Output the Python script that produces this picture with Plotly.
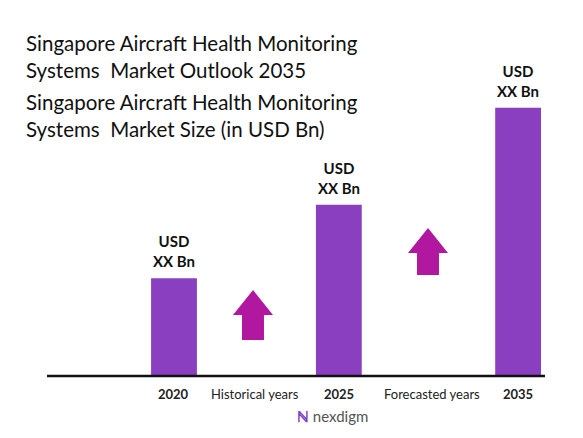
import plotly.graph_objects as go

years = ["2020", "2025", "2035"]
values = [1.00, 1.75, 2.74]
value_labels = ["USD<br>XX Bn", "USD<br>XX Bn", "USD<br>XX Bn"]
period_labels = ["Historical years", "Forecasted years"]
title_1 = "Singapore Aircraft Health Monitoring<br>Systems  Market Outlook 2035"
title_2 = "Singapore Aircraft Health Monitoring<br>Systems  Market Size (in USD Bn)"

W, H = 583, 438
OFF = 8  # page body margin
L, R, B = 47 - OFF, 38 + OFF, 62 + OFF
slots = [0.255, 0.586, 0.946]
FONT = "Lato"
BAR = "#8a3fc0"
ARROW = "#b2189f"


def px(x, y):
    # screenshot pixel -> paper coordinates
    x, y = x - OFF, y - OFF
    return (x - L) / (W - L - R), (H - B - y) / (H - B)


def arrow(cx, top, bottom):
    pts = [(cx, top), (cx + 20, top + 25), (cx + 11, top + 25), (cx + 11, bottom),
           (cx - 11, bottom), (cx - 11, top + 25), (cx - 20, top + 25)]
    pp = [px(*p) for p in pts]
    return "M " + " L ".join(f"{a:.4f},{b:.4f}" for a, b in pp) + " Z"


fig = go.Figure(go.Bar(x=slots, y=values, width=0.092, marker_color=BAR,
                       marker_line_width=0, hoverinfo="skip"))

ann = []
for s, v, t, yr in zip(slots, values, value_labels, years):
    ann.append(dict(x=s, y=v, text=f"<b>{t}</b>", showarrow=False, yanchor="bottom",
                    xanchor="center", yshift=6, font=dict(size=15, color="#111")))
    ann.append(dict(x=s, y=0, text=f"<b>{yr}</b>", showarrow=False, yanchor="top",
                    xanchor="center", yshift=-8, font=dict(size=13, color="#222")))
for t, xp in zip(period_labels, [255, 432]):
    x, _ = px(xp, 0)
    ann.append(dict(x=x, y=0, xref="paper", text=t, showarrow=False, yanchor="top",
                    xanchor="center", yshift=-8, font=dict(size=13, color="#222")))
for t, yp in [(title_1, 29), (title_2, 88)]:
    x, y = px(24, yp)
    ann.append(dict(x=x, y=y, xref="paper", yref="paper", text=t,
                    showarrow=False, xanchor="left", yanchor="top", align="left",
                    font=dict(size=20.5, color="#111", family=FONT)))
x, y = px(332, 427)
ann.append(dict(x=x, y=y, xref="paper", yref="paper", xanchor="center",
                text="<span style='color:#7b3fc4'><b>ℕ</b></span> nexdigm", showarrow=False,
                font=dict(size=15, color="#555", family=FONT)))

fig.update_layout(
    width=W, height=H, margin=dict(l=L, r=R, t=0, b=B),
    plot_bgcolor="white", paper_bgcolor="white", showlegend=False,
    font=dict(family=FONT),
    xaxis=dict(range=[0, 1], visible=False),
    yaxis=dict(range=[0, 3.76], visible=False),
    annotations=ann,
    shapes=[
        dict(type="line", xref="paper", yref="paper", x0=0, x1=1, y0=0, y1=0,
             line=dict(color="#111", width=2.5)),
        dict(type="path", xref="paper", yref="paper", path=arrow(253, 290, 340),
             fillcolor=ARROW, line_width=0),
        dict(type="path", xref="paper", yref="paper", path=arrow(428, 228, 275),
             fillcolor=ARROW, line_width=0),
    ],
)

fig.write_html("out.html")
